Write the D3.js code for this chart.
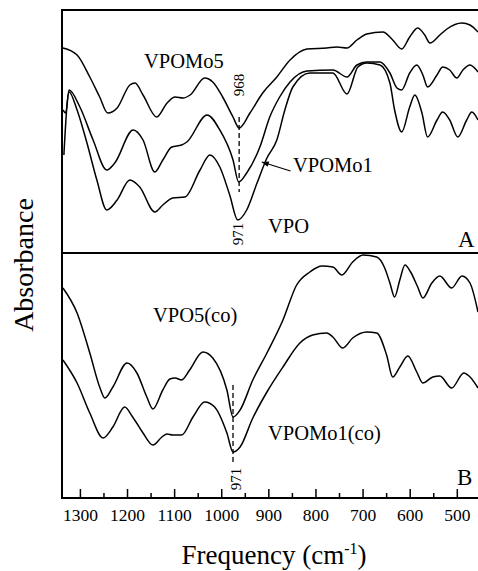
<!DOCTYPE html>
<html><head><meta charset="utf-8">
<script src="https://cdn.jsdelivr.net/npm/d3@7"></script>
<style>body{margin:0;background:#fff} svg{display:block}</style>
</head><body><svg id="c" width="478" height="571"></svg>
<script>
// ---------- data ----------
const majorTicks = [1300,1200,1100,1000,900,800,700,600,500];
const tickLabels = ["1300","1200","1100","1000","900","800","700","600","500"];
const minorTicks = [1250,1150,1050,950,850,750,650,550];

// Panel A
const vpomo5Freq = [1336,1306,1279,1258,1241,1221,1194,1183,1166,1137,1115,1098,1081,1066,1035,1018,997,975,962,939,912,882,854,818,776,755,733,712,691,657,636,617,600,583,568,557,536,521,489,472,455];
const vpomo5Abs  = [2.05,1.98,1.76,1.56,1.40,1.45,1.68,1.70,1.58,1.36,1.50,1.56,1.55,1.58,1.75,1.71,1.56,1.36,1.25,1.40,1.60,1.76,1.93,2.04,2.05,2.06,2.05,2.13,2.19,2.21,2.13,2.04,2.16,2.25,2.18,2.10,2.18,2.24,2.30,2.28,2.21];

const vpomo1Freq = [1336,1330,1323,1300,1272,1243,1226,1187,1166,1141,1124,1105,1084,1073,1030,1003,975,963,946,918,897,876,854,818,763,733,712,691,663,642,627,617,600,585,572,562,542,530,515,500,487,472,455];
const vpomo1Abs  = [1.43,1.40,1.63,1.46,1.13,0.83,0.90,1.23,1.13,0.81,0.93,1.06,1.08,1.11,1.38,1.23,0.93,0.71,0.80,1.06,1.36,1.56,1.71,1.82,1.83,1.76,1.88,1.91,1.91,1.80,1.65,1.63,1.80,1.88,1.78,1.66,1.78,1.86,1.83,1.75,1.83,1.88,1.81];

const vpoFreq = [1334,1323,1306,1285,1264,1243,1221,1194,1173,1141,1124,1103,1077,1045,1024,1003,982,965,946,924,903,882,865,848,812,763,733,710,691,663,642,632,617,600,589,574,562,542,530,515,498,479,468,455];
const vpoAbs  = [0.98,1.61,1.43,1.10,0.73,0.43,0.53,0.73,0.66,0.41,0.48,0.55,0.56,0.83,0.98,0.86,0.58,0.33,0.43,0.70,0.95,1.13,1.43,1.66,1.80,1.80,1.59,1.86,1.90,1.88,1.70,1.43,1.21,1.46,1.58,1.40,1.16,1.33,1.41,1.33,1.16,1.33,1.41,1.33];

// Panel B
const vpo5coFreq = [1336,1306,1279,1258,1247,1230,1200,1179,1158,1145,1124,1109,1098,1084,1067,1039,1018,988,975,960,933,903,869,840,812,786,763,744,721,699,670,653,642,632,621,610,598,583,572,553,536,511,489,472,455];
const vpo5coAbs  = [2.10,1.85,1.45,1.11,1.00,1.11,1.35,1.25,1.01,0.89,1.08,1.19,1.20,1.18,1.28,1.46,1.40,1.08,0.81,0.88,1.18,1.45,1.78,2.13,2.26,2.32,2.31,2.23,2.36,2.43,2.41,2.30,2.15,2.01,2.18,2.33,2.26,2.11,2.00,2.15,2.22,2.10,2.22,2.15,1.86];

const vpomo1coFreq = [1336,1306,1279,1251,1230,1205,1188,1166,1145,1126,1115,1103,1084,1060,1035,1014,988,975,960,933,903,869,833,806,776,763,742,721,691,670,649,636,621,604,585,572,551,536,511,485,472,455];
const vpomo1coAbs  = [1.38,1.15,0.85,0.60,0.71,0.91,0.81,0.65,0.53,0.61,0.64,0.63,0.63,0.81,0.96,0.91,0.65,0.46,0.51,0.80,1.06,1.31,1.55,1.63,1.65,1.61,1.50,1.60,1.66,1.65,1.43,1.21,1.31,1.42,1.26,1.15,1.21,1.22,1.10,1.25,1.21,1.10];

// peak markers (frequency, absorbance span)
const markerAFreq = 962, markerASpan = [1.36, 0.61];
const markerBFreq = 975, markerBSpan = [1.13, 0.36];
// arrow for VPOMo1 label (tip, tail) in data units of panel A
const arrowFreq = [914, 853], arrowAbs = [0.91, 0.82];

// ---------- layout ----------
const svg = d3.select("#c");
const L = 62, R = 478, T = 10, MID = 253, B = 498;
const FONT = "'Liberation Serif','Times New Roman',serif";

const x = d3.scaleLinear().domain([1338, 455]).range([L, R]);
const yA = d3.scaleLinear().domain([0, 2.43]).range([MID, T]);
const yB = d3.scaleLinear().domain([0, 2.45]).range([B, MID]);

svg.append("defs").append("clipPath").attr("id","clip")
  .append("rect").attr("x",L).attr("y",T).attr("width",R-L).attr("height",B-T);

const plot = svg.append("g").attr("clip-path","url(#clip)");

function drawSeries(freq, abs, y){
  const pts = freq.map((f,i)=>[f, abs[i]]);
  const line = d3.line().x(d=>x(d[0])).y(d=>y(d[1])).curve(d3.curveMonotoneX);
  plot.append("path").datum(pts).attr("d", line)
    .attr("fill","none").attr("stroke","#000").attr("stroke-width",1.5)
    .attr("stroke-linejoin","round");
}
drawSeries(vpomo5Freq, vpomo5Abs, yA);
drawSeries(vpomo1Freq, vpomo1Abs, yA);
drawSeries(vpoFreq, vpoAbs, yA);
drawSeries(vpo5coFreq, vpo5coAbs, yB);
drawSeries(vpomo1coFreq, vpomo1coAbs, yB);

// dashed peak markers
function dashed(f, span, y){
  svg.append("line").attr("x1",x(f)).attr("x2",x(f))
    .attr("y1",y(span[0])).attr("y2",y(span[1]))
    .attr("stroke","#000").attr("stroke-width",1.3).attr("stroke-dasharray","5,3");
}
dashed(markerAFreq, markerASpan, yA);
dashed(markerBFreq, markerBSpan, yB);

// frame
const frame = svg.append("g").attr("stroke","#000").attr("stroke-width",2);
frame.append("line").attr("x1",L).attr("x2",L).attr("y1",T-1).attr("y2",B+1);
frame.append("line").attr("x1",L-1).attr("x2",R).attr("y1",T).attr("y2",T);
frame.append("line").attr("x1",L).attr("x2",R).attr("y1",MID).attr("y2",MID);
frame.append("line").attr("x1",L-1).attr("x2",R).attr("y1",B).attr("y2",B);

// axis
const axis = d3.axisBottom(x).tickValues(majorTicks)
  .tickFormat((d,i)=>tickLabels[i]).tickSize(-9).tickPadding(11);
const gAx = svg.append("g").attr("transform",`translate(0,${B})`).call(axis);
gAx.select(".domain").remove();
gAx.selectAll(".tick line").attr("stroke","#000").attr("stroke-width",1.5);
gAx.selectAll(".tick text").attr("font-family",FONT).attr("font-size",17.5).attr("fill","#000");
const axMinor = d3.axisBottom(x).tickValues(minorTicks).tickFormat("").tickSize(-5);
const gMin = svg.append("g").attr("transform",`translate(0,${B})`).call(axMinor);
gMin.select(".domain").remove();
gMin.selectAll(".tick line").attr("stroke","#000").attr("stroke-width",1.5);

// texts
function txt(s, px, py, size, opts={}){
  const t = svg.append("text").attr("x",px).attr("y",py).text(s)
    .attr("font-family",FONT).attr("font-size",size).attr("fill","#000");
  if(opts.anchor) t.attr("text-anchor",opts.anchor);
  return t;
}
txt("VPOMo5", 144, 68, 20.5);
txt("VPOMo1", 293, 172, 20.5);
txt("VPO", 268, 233, 20.5);
txt("VPO5(co)", 153, 322, 20.5);
txt("VPOMo1(co)", 268, 440, 20.5);
txt("A", 458, 247, 23);
txt("B", 457, 485, 23);

function rotNum(s, px, py){
  svg.append("text").attr("transform",`translate(${px},${py}) rotate(-90)`)
    .attr("text-anchor","middle").attr("dominant-baseline","central")
    .attr("font-family",FONT).attr("font-size",15).attr("fill","#000").text(s);
}
rotNum("968", x(markerAFreq), 85);
rotNum("971", x(markerAFreq)-1, 234);
rotNum("971", x(markerBFreq)+3, 479);

// arrow
const tip = [x(arrowFreq[0]), yA(arrowAbs[0])], tail = [x(arrowFreq[1]), yA(arrowAbs[1])];
svg.append("line").attr("x1",tail[0]).attr("y1",tail[1]).attr("x2",tip[0]).attr("y2",tip[1])
  .attr("stroke","#000").attr("stroke-width",1.3);
{
  const ang = Math.atan2(tip[1]-tail[1], tip[0]-tail[0]);
  const len = 7, w = 2.8;
  const bx = tip[0]-len*Math.cos(ang), by = tip[1]-len*Math.sin(ang);
  const p1 = [bx + w*Math.sin(ang), by - w*Math.cos(ang)];
  const p2 = [bx - w*Math.sin(ang), by + w*Math.cos(ang)];
  svg.append("path").attr("d",`M${tip}L${p1}L${p2}Z`).attr("fill","#000");
}

// axis titles
svg.append("text").attr("transform","translate(33,265) rotate(-90)")
  .attr("text-anchor","middle").attr("font-family",FONT).attr("font-size",28).attr("fill","#000")
  .text("Absorbance");
const xt = svg.append("text").attr("x",274).attr("y",564).attr("text-anchor","middle")
  .attr("font-family",FONT).attr("font-size",27).attr("fill","#000");
xt.append("tspan").text("Frequency (cm");
xt.append("tspan").attr("font-size",16).attr("dy",-10).text("-1");
xt.append("tspan").attr("dy",10).text(")");
</script></body></html>
